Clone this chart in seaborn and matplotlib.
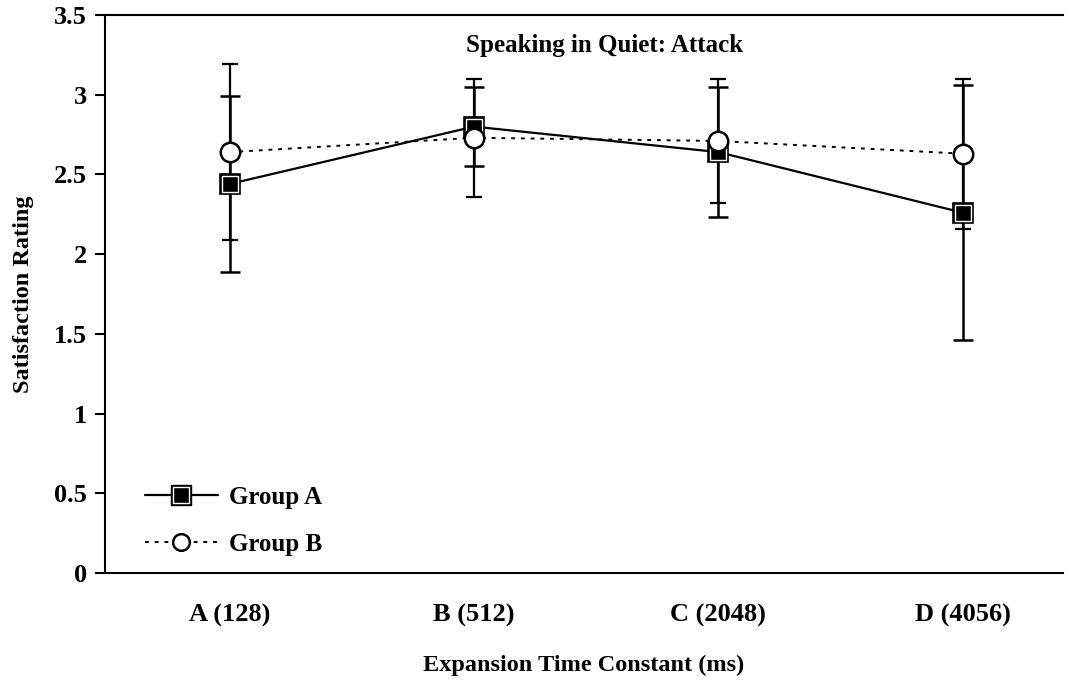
import matplotlib
matplotlib.use("Agg")
import matplotlib.pyplot as plt
import seaborn as sns
import pandas as pd
import numpy as np
from matplotlib.lines import Line2D
from matplotlib.legend_handler import HandlerTuple

categories = ["A (128)", "B (512)", "C (2048)", "D (4056)"]
group_a_mean = [2.44, 2.80, 2.64, 2.26]
group_a_err = [0.55, 0.25, 0.41, 0.80]
group_b_mean = [2.64, 2.73, 2.71, 2.63]
group_b_err = [0.55, 0.37, 0.39, 0.47]
yticks = [0, 0.5, 1, 1.5, 2, 2.5, 3, 3.5]
yticklabels = ["0", "0.5", "1", "1.5", "2", "2.5", "3", "3.5"]

sns.set_theme(style="ticks")
plt.rcParams["font.family"] = ["Liberation Serif", "DejaVu Serif"]
plt.rcParams["font.weight"] = "bold"
plt.rcParams["text.color"] = "black"
plt.rcParams["axes.labelcolor"] = "black"
plt.rcParams["xtick.color"] = "black"
plt.rcParams["ytick.color"] = "black"
plt.rcParams["axes.edgecolor"] = "black"

fig = plt.figure(figsize=(10.81, 6.85), dpi=100)
ax = fig.add_axes([105 / 1081, (685 - 573) / 685, (1063 - 105) / 1081, (573 - 15) / 685])

pos = np.arange(len(categories))
df = pd.DataFrame({
    "x": np.concatenate([pos, pos]),
    "y": group_a_mean + group_b_mean,
    "group": ["Group A"] * 4 + ["Group B"] * 4,
})

# error bars
ax.errorbar(pos, group_b_mean, yerr=group_b_err, fmt="none", ecolor="black",
            elinewidth=1.6, capsize=6, capthick=1.6, linestyle=":", zorder=2)
ax.errorbar(pos, group_a_mean, yerr=group_a_err, fmt="none", ecolor="black",
            elinewidth=1.8, capsize=7, capthick=1.8, zorder=3)

# lines
sns.lineplot(data=df[df.group == "Group B"], x="x", y="y", ax=ax, color="black",
             linestyle=(0, (2, 3)), linewidth=1.4, zorder=4, legend=False)
sns.lineplot(data=df[df.group == "Group A"], x="x", y="y", ax=ax, color="black",
             linestyle="-", linewidth=1.6, marker="s", markersize=14.5,
             markerfacecolor="black", markeredgecolor="black", markeredgewidth=1.2,
             zorder=5, legend=False)
# inner white rim of the square markers
ax.plot(pos, group_a_mean, linestyle="none", marker="s", markersize=11,
        markerfacecolor="black", markeredgecolor="white", markeredgewidth=1.0, zorder=6)
# open circles drawn on top
sns.scatterplot(data=df[df.group == "Group B"], x="x", y="y", ax=ax, marker="o",
                s=196, facecolor="white", edgecolor="black", linewidth=1.8,
                zorder=7, legend=False)

ax.set_xlim(-0.51, 3.41)
ax.set_ylim(0, 3.5)
ax.set_yticks(yticks)
ax.set_yticklabels(yticklabels, fontsize=19, fontweight="bold", color="black")
ax.set_xticks(pos)
ax.set_xticklabels(categories, fontsize=19, fontweight="bold", color="black")
ax.tick_params(axis="x", length=0, pad=22)
ax.tick_params(axis="y", length=7, width=1.5, direction="out", pad=6, color="black")
ax.set_xlabel("Expansion Time Constant (ms)", fontsize=17.5, fontweight="bold",
              labelpad=20, color="black")
ax.set_ylabel("Satisfaction Rating", fontsize=17.5, fontweight="bold",
              labelpad=14, color="black")

for s in ["left", "bottom", "top"]:
    ax.spines[s].set_linewidth(1.5)
    ax.spines[s].set_color("black")
ax.spines["right"].set_visible(False)

ax.text(0.521, 0.946, "Speaking in Quiet: Attack", transform=ax.transAxes,
        ha="center", va="center", fontsize=18, fontweight="bold", color="black")

h_a = (Line2D([], [], color="black", linewidth=1.6, marker="s", markersize=14,
              markerfacecolor="black", markeredgecolor="black"),
       Line2D([], [], linestyle="none", marker="s", markersize=11,
              markerfacecolor="black", markeredgecolor="white", markeredgewidth=1.0))
h_b = Line2D([], [], color="black", linestyle=(0, (2, 3)), linewidth=1.4, marker="o",
             markersize=12, markerfacecolor="white", markeredgecolor="black",
             markeredgewidth=1.8)
leg = ax.legend([h_a, h_b], ["Group A", "Group B"],
                handler_map={tuple: HandlerTuple(ndivide=1, pad=0)},
                loc="center left", bbox_to_anchor=(0.042, 0.093), frameon=False,
                borderpad=0, borderaxespad=0,
                prop={"size": 18, "weight": "bold", "family": "Liberation Serif"},
                handlelength=2.9, labelspacing=0.95, handletextpad=0.45)
for t in leg.get_texts():
    t.set_color("black")

fig.savefig("out.png", dpi=100)
